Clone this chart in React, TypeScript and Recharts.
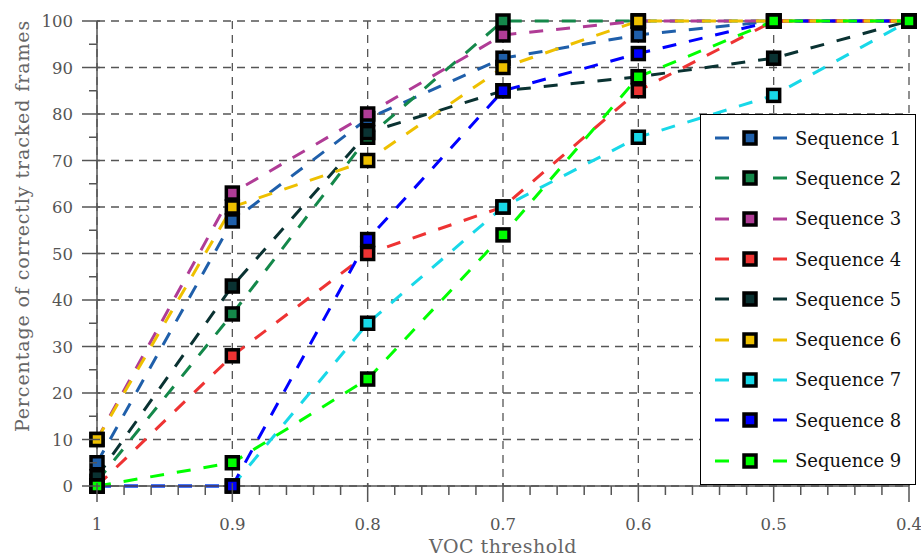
import { LineChart, Line, XAxis, YAxis, CartesianGrid, Legend } from 'recharts';

const FONT = '"DejaVu Serif", serif';

// VOC thresholds along the x axis (left to right)
const vocThresholds = [1, 0.9, 0.8, 0.7, 0.6, 0.5, 0.4];

// percentage of correctly tracked frames per sequence
const seq1 = [5, 57, 79, 92, 97, 100, 100];
const seq2 = [1, 37, 75, 100, 100, 100, 100];
const seq3 = [10, 63, 80, 97, 100, 100, 100];
const seq4 = [0, 28, 50, 60, 85, 100, 100];
const seq5 = [2, 43, 76, 85, 88, 92, 100];
const seq6 = [10, 60, 70, 90, 100, 100, 100];
const seq7 = [0, 0, 35, 60, 75, 84, 100];
const seq8 = [0, 0, 53, 85, 93, 100, 100];
const seq9 = [0, 5, 23, 54, 88, 100, 100];

const seriesNames = [
  'Sequence 1', 'Sequence 2', 'Sequence 3', 'Sequence 4', 'Sequence 5',
  'Sequence 6', 'Sequence 7', 'Sequence 8', 'Sequence 9',
];
const seriesColors = [
  '#1f5faa', '#14884a', '#b03c96', '#ee3333', '#0a3232',
  '#eec000', '#18d8e8', '#0000ff', '#00ff00',
];
const seriesValues = [seq1, seq2, seq3, seq4, seq5, seq6, seq7, seq8, seq9];

// axis ticks
const xMajorTicks = [1, 0.9, 0.8, 0.7, 0.6, 0.5, 0.4];
const xAllTicks = [
  1, 0.98, 0.96, 0.94, 0.92, 0.9, 0.88, 0.86, 0.84, 0.82, 0.8,
  0.78, 0.76, 0.74, 0.72, 0.7, 0.68, 0.66, 0.64, 0.62, 0.6,
  0.58, 0.56, 0.54, 0.52, 0.5, 0.48, 0.46, 0.44, 0.42, 0.4,
];
const yMajorTicks = [0, 10, 20, 30, 40, 50, 60, 70, 80, 90, 100];
const yAllTicks = [
  0, 5, 10, 15, 20, 25, 30, 35, 40, 45, 50,
  55, 60, 65, 70, 75, 80, 85, 90, 95, 100,
];

const data = vocThresholds.map((voc, i) => {
  const row: Record<string, number> = { voc };
  seriesValues.forEach((vals, s) => {
    row[`s${s + 1}`] = vals[i];
  });
  return row;
});

const AXIS = '#555';

const isMajor = (v: number, majors: number[]) => majors.some((m) => Math.abs(m - v) < 1e-6);

const XTick = (props: any) => {
  const { x, y, payload } = props;
  const major = isMajor(payload.value, xMajorTicks);
  return (
    <g>
      <line x1={x} x2={x} y1={major ? y - 3 : y} y2={y + (major ? 16 : 9)} stroke={AXIS} strokeWidth={1.5} />
      {major && (
        <text x={x} y={y + 44} textAnchor="middle" fontFamily={FONT} fontSize={16.5} fill="#555">
          {String(payload.value)}
        </text>
      )}
    </g>
  );
};

const YTick = (props: any) => {
  const { x, y, payload } = props;
  const major = isMajor(payload.value, yMajorTicks);
  return (
    <g>
      <line x1={x - (major ? 15 : 8)} x2={major ? x + 3 : x} y1={y} y2={y} stroke={AXIS} strokeWidth={1.5} />
      {major && (
        <text x={x - 24} y={y + 6} textAnchor="end" fontFamily={FONT} fontSize={16.5} fill="#555">
          {payload.value}
        </text>
      )}
    </g>
  );
};

const SquareDot = (color: string) => (props: any) => {
  const { cx, cy, key } = props;
  if (cx == null || cy == null) return null;
  return (
    <rect key={key} x={cx - 6} y={cy - 6} width={12} height={12} fill={color} stroke="#000" strokeWidth={3.5} />
  );
};

const YLabel = (props: any) => {
  const vb = props.viewBox || {};
  const x = (vb.x ?? 0) + 29;
  const y = (vb.y ?? 21) + 205;
  return (
    <text
      x={x}
      y={y}
      transform={`rotate(-90, ${x}, ${y})`}
      textAnchor="middle"
      fontFamily={FONT}
      fontSize={19}
      letterSpacing={0.9}
      fill="#666"
    >
      Percentage of correctly tracked frames
    </text>
  );
};

const LegendBox = (props: any) => {
  const items = props.payload || [];
  return (
    <div
      style={{
        boxSizing: 'border-box',
        width: 216,
        height: 371,
        border: '1.5px solid #000',
        background: '#fff',
        padding: '3px 0',
      }}
    >
      {items.map((item: any) => (
        <div key={item.value} style={{ display: 'flex', alignItems: 'center', height: 40.3 }}>
          <svg width={92} height={20} style={{ display: 'block', flex: 'none' }}>
            <line x1={14} x2={28} y1={10} y2={10} stroke={item.color} strokeWidth={3} />
            <rect x={43} y={4} width={12} height={12} fill={item.color} stroke="#000" strokeWidth={3.5} />
            <line x1={72} x2={86} y1={10} y2={10} stroke={item.color} strokeWidth={3} />
          </svg>
          <span style={{ fontFamily: FONT, fontSize: 18, color: '#111', marginLeft: 2, whiteSpace: 'nowrap' }}>
            {item.value}
          </span>
        </div>
      ))}
    </div>
  );
};

export default function App() {
  return (
    <div style={{ position: 'absolute', left: 0, top: 0, width: 921, height: 557, background: '#fff' }}>
      <LineChart width={921} height={557} data={data} margin={{ top: 21, right: 12, bottom: 0, left: 0 }}>
        {/* hidden axes that only carry the major ticks for the grid */}
        <XAxis xAxisId="grid" dataKey="voc" type="number" domain={[0.4, 1]} reversed ticks={xMajorTicks} hide />
        <YAxis
          yAxisId="grid"
          dataKey="s1"
          type="number"
          domain={[0, 100]}
          allowDataOverflow
          ticks={yMajorTicks}
          interval={0}
          hide
        />
        <CartesianGrid
          xAxisId="grid"
          yAxisId="grid"
          stroke={AXIS}
          strokeWidth={1.3}
          strokeDasharray="8 6"
        />
        <XAxis
          dataKey="voc"
          type="number"
          domain={[0.4, 1]}
          reversed
          ticks={xAllTicks}
          interval={0}
          height={71}
          tickSize={0}
          tickMargin={0}
          tickLine={false}
          tick={<XTick />}
          stroke={AXIS}
          strokeWidth={1.5}
          label={{
            value: 'VOC threshold',
            position: 'insideBottom',
            offset: 4,
            fill: '#666',
            fontSize: 19,
            letterSpacing: 0.5,
            fontFamily: FONT,
          }}
        />
        <YAxis
          type="number"
          domain={[0, 100]}
          ticks={yAllTicks}
          interval={0}
          width={97}
          tickSize={0}
          tickMargin={0}
          tickLine={false}
          tick={<YTick />}
          stroke={AXIS}
          strokeWidth={1.5}
          label={{ content: <YLabel /> }}
        />
        <Legend
          layout="horizontal"
          align="center"
          verticalAlign="middle"
          wrapperStyle={{ left: 700, top: 114, width: 216 }}
          content={<LegendBox />}
        />
        {seriesNames.map((name, s) => (
          <Line
            key={name}
            name={name}
            dataKey={`s${s + 1}`}
            type="linear"
            stroke={seriesColors[s]}
            strokeWidth={3}
            strokeDasharray="14 13"
            dot={SquareDot(seriesColors[s])}
            activeDot={false}
            isAnimationActive={false}
          />
        ))}
      </LineChart>
    </div>
  );
}
